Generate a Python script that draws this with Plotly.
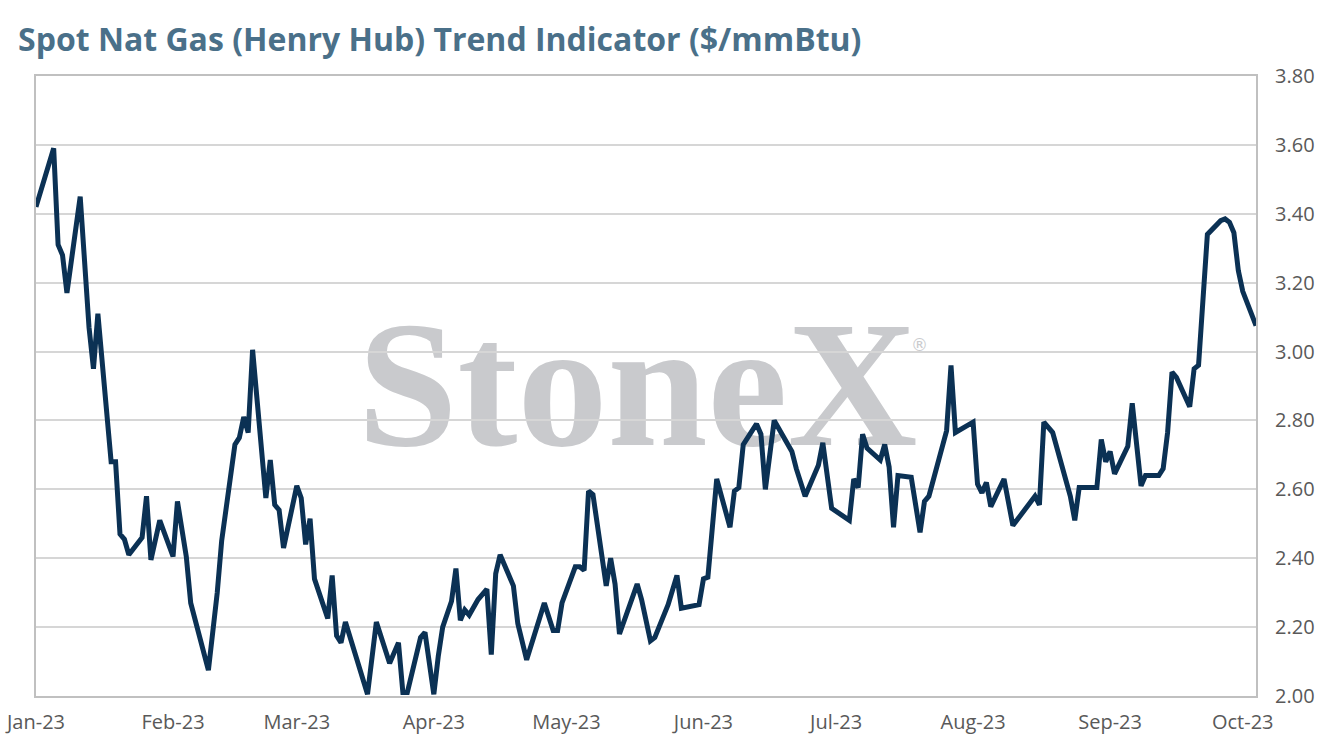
import plotly.graph_objects as go

dates = [
    "2023-01-01", "2023-01-05", "2023-01-06", "2023-01-07", "2023-01-08", "2023-01-11",
    "2023-01-13", "2023-01-14", "2023-01-15", "2023-01-18", "2023-01-19", "2023-01-20",
    "2023-01-21", "2023-01-22", "2023-01-25", "2023-01-26", "2023-01-27", "2023-01-29",
    "2023-02-01", "2023-02-02", "2023-02-04", "2023-02-05", "2023-02-09", "2023-02-11",
    "2023-02-12", "2023-02-15", "2023-02-16", "2023-02-17", "2023-02-18", "2023-02-19",
    "2023-02-22", "2023-02-23", "2023-02-24", "2023-02-25", "2023-02-26", "2023-03-01",
    "2023-03-02", "2023-03-03", "2023-03-04", "2023-03-05", "2023-03-08", "2023-03-09",
    "2023-03-10", "2023-03-11", "2023-03-12", "2023-03-17", "2023-03-19", "2023-03-22",
    "2023-03-24", "2023-03-25", "2023-03-26", "2023-03-29", "2023-03-30", "2023-04-01",
    "2023-04-02", "2023-04-03", "2023-04-05", "2023-04-06", "2023-04-07", "2023-04-08",
    "2023-04-09", "2023-04-11", "2023-04-13", "2023-04-14", "2023-04-15", "2023-04-16",
    "2023-04-19", "2023-04-20", "2023-04-22", "2023-04-26", "2023-04-28", "2023-04-29",
    "2023-04-30", "2023-05-03", "2023-05-04", "2023-05-05", "2023-05-06", "2023-05-07",
    "2023-05-10", "2023-05-11", "2023-05-12", "2023-05-13", "2023-05-17", "2023-05-18",
    "2023-05-20", "2023-05-21", "2023-05-24", "2023-05-26", "2023-05-27", "2023-05-31",
    "2023-06-01", "2023-06-02", "2023-06-04", "2023-06-07", "2023-06-08", "2023-06-09",
    "2023-06-10", "2023-06-13", "2023-06-14", "2023-06-15", "2023-06-17", "2023-06-21",
    "2023-06-22", "2023-06-24", "2023-06-27", "2023-06-28", "2023-06-30", "2023-07-04",
    "2023-07-05", "2023-07-06", "2023-07-07", "2023-07-08", "2023-07-11", "2023-07-12",
    "2023-07-13", "2023-07-14", "2023-07-15", "2023-07-18", "2023-07-20", "2023-07-21",
    "2023-07-22", "2023-07-26", "2023-07-27", "2023-07-28", "2023-08-01", "2023-08-02",
    "2023-08-03", "2023-08-04", "2023-08-05", "2023-08-08", "2023-08-10", "2023-08-12",
    "2023-08-15", "2023-08-16", "2023-08-17", "2023-08-19", "2023-08-23", "2023-08-24",
    "2023-08-25", "2023-08-29", "2023-08-30", "2023-08-31", "2023-09-01", "2023-09-02",
    "2023-09-05", "2023-09-06", "2023-09-08", "2023-09-09", "2023-09-12", "2023-09-13",
    "2023-09-14", "2023-09-15", "2023-09-16", "2023-09-19", "2023-09-20", "2023-09-21",
    "2023-09-23", "2023-09-26", "2023-09-27", "2023-09-28", "2023-09-29", "2023-09-30",
    "2023-10-01", "2023-10-04",
]

prices = [
    3.42, 3.59, 3.31, 3.28, 3.17, 3.45,
    3.07, 2.95, 3.11, 2.68, 2.68, 2.47,
    2.455, 2.41, 2.46, 2.58, 2.395, 2.51,
    2.405, 2.565, 2.405, 2.27, 2.075, 2.30,
    2.45, 2.73, 2.75, 2.81, 2.765, 3.005,
    2.575, 2.685, 2.555, 2.54, 2.43, 2.61,
    2.575, 2.44, 2.515, 2.34, 2.225, 2.35,
    2.175, 2.155, 2.215, 2.005, 2.215, 2.095,
    2.155, 2.01, 2.01, 2.17, 2.185, 2.005,
    2.115, 2.20, 2.275, 2.37, 2.22, 2.25,
    2.235, 2.28, 2.31, 2.12, 2.355, 2.41,
    2.32, 2.21, 2.105, 2.27, 2.19, 2.19,
    2.27, 2.375, 2.375, 2.365, 2.595, 2.585,
    2.32, 2.40, 2.325, 2.18, 2.325, 2.28,
    2.16, 2.17, 2.265, 2.35, 2.255, 2.265,
    2.34, 2.345, 2.63, 2.49, 2.595, 2.605,
    2.73, 2.79, 2.76, 2.60, 2.80, 2.71,
    2.66, 2.58, 2.67, 2.735, 2.545, 2.51,
    2.63, 2.605, 2.76, 2.72, 2.685, 2.73,
    2.665, 2.49, 2.64, 2.635, 2.475, 2.565,
    2.58, 2.77, 2.96, 2.765, 2.795, 2.615,
    2.59, 2.62, 2.55, 2.63, 2.495, 2.53,
    2.58, 2.555, 2.795, 2.765, 2.58, 2.51,
    2.605, 2.605, 2.745, 2.68, 2.71, 2.645,
    2.725, 2.85, 2.61, 2.64, 2.64, 2.66,
    2.765, 2.94, 2.925, 2.84, 2.95, 2.96,
    3.34, 3.38, 3.385, 3.375, 3.345, 3.235,
    3.175, 3.075,
]

month_ticks = ["2023-01-01", "2023-02-01", "2023-03-01", "2023-04-01", "2023-05-01",
               "2023-06-01", "2023-07-01", "2023-08-01", "2023-09-01", "2023-10-01"]
month_labels = ["Jan-23", "Feb-23", "Mar-23", "Apr-23", "May-23",
                "Jun-23", "Jul-23", "Aug-23", "Sep-23", "Oct-23"]

title_text = "Spot Nat Gas (Henry Hub) Trend Indicator ($/mmBtu)"
watermark_text = "StoneX"

FONT = "Open Sans"
TICK_COLOR = "#595959"
BORDER = "#c0c0c0"

W, H = 1335, 756

fig = go.Figure()
fig.add_trace(go.Scatter(
    x=dates, y=prices, mode="lines",
    line=dict(color="#0b3154", width=5),
    hoverinfo="x+y", showlegend=False,
))

fig.update_layout(
    width=W, height=H,
    paper_bgcolor="white", plot_bgcolor="rgba(0,0,0,0)",
    margin=dict(l=36, r=79, t=76, b=60, autoexpand=False),
    font=dict(family=FONT, color=TICK_COLOR, size=20),
    title=dict(
        text=title_text, x=18 / W, xanchor="left", xref="container",
        y=1 - 40 / H, yanchor="middle", yref="container",
        font=dict(family=FONT, size=32, color="#4a7089", weight="bold"),
    ),
    xaxis=dict(
        type="date", range=["2023-01-01", "2023-10-04"],
        tickvals=month_ticks, ticktext=month_labels,
        showgrid=False, showline=True, linecolor=BORDER, linewidth=2, mirror=True,
        ticks="", ticklabelstandoff=7, zeroline=False, ticklabeloverflow="allow",
        automargin=False,
        tickfont=dict(family=FONT, size=20, color=TICK_COLOR),
    ),
    yaxis=dict(
        range=[2.0, 3.8], dtick=0.2, tick0=2.0, tickformat=".2f", side="right",
        showgrid=True, gridcolor="#d6d6d6", gridwidth=1.5,
        showline=True, linecolor=BORDER, linewidth=2, mirror=True,
        ticks="", ticklabelstandoff=13, zeroline=False, automargin=False,
        tickfont=dict(family=FONT, size=20, color=TICK_COLOR),
    ),
    shapes=[
        dict(type="rect", xref="paper", yref="paper", x0=0.293, x1=0.693, y0=0.385, y1=0.685,
             line=dict(width=0), fillcolor="rgba(0,0,0,0)", layer="below",
             label=dict(text=watermark_text, textposition="middle center",
                        font=dict(family="Liberation Serif", size=180, color="#c9cacd",
                                  weight="bold"))),
    ],
    annotations=[
        dict(text="®", xref="paper", yref="paper", x=(930 - 36) / 1220, y=(696 - 345) / 620,
             showarrow=False, font=dict(family="DejaVu Sans", size=17, color="#c9cacd")),
    ],
)

# remove the default 8px page margin so the figure fills the window exactly
fig.write_html("out.html", config={"displayModeBar": False},
               post_script="document.body.style.margin='0';")
